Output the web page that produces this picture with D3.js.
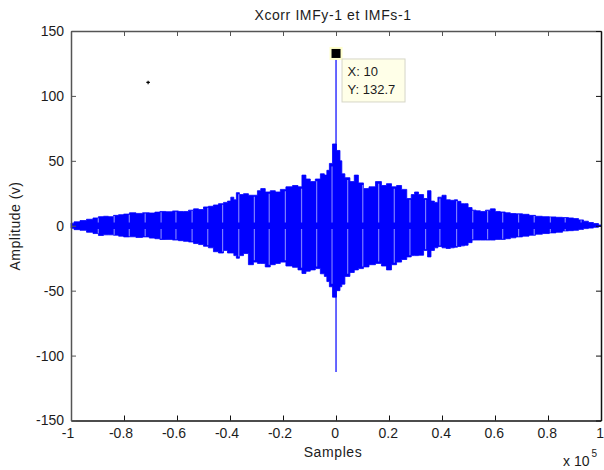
<!DOCTYPE html>
<html>
<head>
<meta charset="utf-8">
<script src="https://cdn.jsdelivr.net/npm/d3@7"></script>
<style>
 body { margin:0; background:#fff; }
 text { font-family:"Liberation Sans", Arial, sans-serif; fill:#1c1c1c; }
</style>
</head>
<body>
<script>
// envelope of the xcorr signal (lag in samples, amplitude in v)
var envLag = [-100000,-97700,-95500,-92800,-90600,-88700,-86800,-84900,-83000,-81100,
 -79200,-76700,-74300,-71700,-69200,-67500,-65400,-63000,-60400,-58500,
 -56600,-54700,-52800,-50900,-49100,-47200,-45300,-43400,-41500,-40400,
 -39000,-38100,-37100,-35800,-34000,-32100,-30200,-29100,-27700,-25700,
 -23900,-21900,-20100,-17700,-15100,-13600,-12100,-10600,-8800,-6800,
 -5000,-3800,-3100,-1900,-750,1100,1900,2500,4200,6300,
 7500,9400,11300,13600,16200,18100,20000,21900,23800,25700,
 27700,29100,30200,32100,34000,35100,36600,37700,39200,40800,
 42300,44000,45300,46400,47900,49100,50600,52100,53600,55400,
 57400,59100,61100,62900,64900,66700,69100,71700,74000,76600,
 79200,81800,84200,86800,88700,90600,92500,94300,96200,98100,100000];
var envUpper = [2,3,4,5,6,7,7.3,7,8,8.5,
 9,10,9.5,10,9.8,10.5,11,10.8,11.4,11,
 11,12,13,12.5,14.5,15,16,17,18,19,
 22,20,25.5,24,24.7,23.5,23.5,27,28.6,26,
 27,26,28,30,31,30,39,36,34,36,
 40,39,42.7,48,63,58,50,40,37,34,
 39,33,28.6,30,34,31,32.4,30,31,28,
 21,24,26,24,21,27,19,18,22,23.5,
 20,19.6,20,18.8,17,17,14,12,11.5,11,
 12,13,11,10.6,10,9.4,9.2,8.8,8,7.3,
 7,6.8,6.5,6.3,6,5.5,4.5,3.5,2.5,1.7,0.6];
var envLower = [-2,-3,-3.5,-5,-6,-7.5,-7,-7,-7.3,-8,
 -8.6,-8.5,-9,-8.6,-9.5,-10,-10.6,-10.5,-11,-11.5,
 -12,-12.5,-13.7,-14.5,-15.8,-17,-20,-21,-19,-21,
 -21,-23,-25,-23,-21.4,-30,-28,-29,-29,-31.7,
 -30,-29,-28,-31,-32,-34,-36.8,-35,-34,-33,
 -37,-39,-43,-47,-55,-50,-47,-45,-39,-36,
 -34,-33,-31.7,-30,-29,-31,-34,-30,-28,-26,
 -24,-23,-23,-22.7,-19,-24,-19,-17,-16,-17,
 -17.5,-17,-16.5,-16,-15.5,-15,-13,-11,-11,-11,
 -11,-11,-10.5,-10.5,-10,-9.3,-8.6,-8,-7.3,-6.5,
 -6,-5.5,-5,-4,-3.8,-3.5,-2.8,-2.2,-1.8,-1.2,-0.4];

// lighter vertical gaps that repeat through the signal
var stripeLag = [-89700,-83700,-78000,-72000,-66000,-60400,-54300,-48400,-42800,-36700,
 -30800,-25200,-19100,-13000,-7300,-1500,4400,10100,16100,22000,
 27900,33800,39200,45500,51600,57200,62900,68900,74800,80900,86500,92500];

// central spike and data tip
var peakLag = 10, peakMax = 132.7, peakMin = -112.7;
var strayPoint = [-70900, 110.4];

var xTicks = [-100000,-80000,-60000,-40000,-20000,0,20000,40000,60000,80000,100000];
var xTickLabels = ["-1","-0.8","-0.6","-0.4","-0.2","0","0.2","0.4","0.6","0.8","1"];
var yTicks = [-150,-100,-50,0,50,100,150];

var W = 604, H = 470;
var L = 71, R = 601, T = 31, B = 420.5;

var svg = d3.select("body").append("svg")
  .attr("width", W)
  .attr("height", H);
svg.append("rect").attr("width", W).attr("height", H).attr("fill", "#fff");

var x = d3.scaleLinear().domain([-100000, 100000]).range([L, R]);
var y = d3.scaleLinear().domain([-150, 150]).range([B, T]);

var env = envLag.map(function(d, i){ return {lag:d, hi:envUpper[i], lo:envLower[i]}; });

// the signal band
var band = d3.area()
  .x(function(d){ return x(d.lag); })
  .y0(function(d){ return y(d.lo); })
  .y1(function(d){ return y(d.hi); })
  .curve(d3.curveStep);

svg.append("path")
  .attr("d", band(env))
  .attr("fill", "#0000ff")
  .attr("stroke", "#0000ff")
  .attr("stroke-width", 0.8);

var bis = d3.bisector(function(d){ return d.lag; }).center;
var stripes = svg.append("g")
  .attr("stroke", "#7c7cff")
  .attr("stroke-width", 1.2);
stripeLag.forEach(function(s){
  var e = env[bis(env, s)];
  stripes.append("line")
    .attr("x1", x(s)).attr("x2", x(s))
    .attr("y1", y(e.hi * 0.95)).attr("y2", y(2.5));
  stripes.append("line")
    .attr("x1", x(s)).attr("x2", x(s))
    .attr("y1", y(-2.5)).attr("y2", y(e.lo * 0.95));
});

svg.append("line")
  .attr("x1", x(peakLag)).attr("x2", x(peakLag))
  .attr("y1", y(peakMin)).attr("y2", y(peakMax))
  .attr("stroke", "#0000ff")
  .attr("stroke-width", 1.2);

svg.append("path")
  .attr("d", d3.symbol().type(d3.symbolCross).size(7)())
  .attr("transform", "translate(" + x(strayPoint[0]) + "," + y(strayPoint[1]) + ")")
  .attr("fill", "#000");

// axes, MATLAB box with inward ticks
function styleAxis(g, col){
  g.select(".domain").attr("stroke", col).attr("stroke-width", 1.5);
  g.selectAll(".tick line").attr("stroke", col);
  g.selectAll(".tick text")
    .attr("fill", "#1c1c1c")
    .style("font-size", "14px")
    .style("font-family", "'Liberation Sans', Arial, sans-serif");
}

var gB = svg.append("g").attr("transform", "translate(0," + B + ")")
  .call(d3.axisBottom(x).tickValues(xTicks).tickSizeInner(-5).tickSizeOuter(0).tickPadding(8)
    .tickFormat(function(d, i){ return xTickLabels[i]; }));
styleAxis(gB, "#111");
gB.selectAll(".tick text").attr("dx", function(d){ return d < 0 ? -3.5 : -1.3; });

var gT = svg.append("g").attr("transform", "translate(0," + T + ")")
  .call(d3.axisTop(x).tickValues(xTicks).tickSizeInner(-5).tickSizeOuter(0).tickFormat(""));
styleAxis(gT, "#555");

var gL = svg.append("g").attr("transform", "translate(" + L + ",0)")
  .call(d3.axisLeft(y).tickValues(yTicks).tickSizeInner(-5).tickSizeOuter(0).tickPadding(7)
    .tickFormat(function(d){ return String(d); }));
styleAxis(gL, "#555");

var gR = svg.append("g").attr("transform", "translate(" + R + ",0)")
  .call(d3.axisRight(y).tickValues(yTicks).tickSizeInner(-5).tickSizeOuter(0).tickFormat(""));
styleAxis(gR, "#111");

// data tip
var px = x(peakLag), py = y(peakMax);
svg.append("rect")
  .attr("x", px - 6.5).attr("y", py - 6.5).attr("width", 13).attr("height", 13)
  .attr("fill", "#ffffcc");
svg.append("rect")
  .attr("x", px - 4.5).attr("y", py - 4.5).attr("width", 9).attr("height", 9)
  .attr("fill", "#000");
svg.append("rect")
  .attr("x", px + 6).attr("y", py + 5.5).attr("width", 63).attr("height", 43)
  .attr("fill", "#ffffe8")
  .attr("stroke", "#d6d6c8");
svg.append("text").attr("x", px + 11.5).attr("y", py + 23)
  .style("font-size", "13px").text("X: " + peakLag);
svg.append("text").attr("x", px + 11.5).attr("y", py + 41)
  .style("font-size", "13px").text("Y: " + peakMax);

// labels
svg.append("text")
  .attr("x", 333).attr("y", 20)
  .attr("text-anchor", "middle")
  .style("font-size", "14px").style("letter-spacing", "0.6px")
  .text("Xcorr IMFy-1 et IMFs-1");

svg.append("text")
  .attr("x", 333).attr("y", 457)
  .attr("text-anchor", "middle")
  .style("font-size", "14px").style("letter-spacing", "0.6px")
  .text("Samples");

svg.append("text")
  .attr("transform", "translate(20,226) rotate(-90)")
  .attr("text-anchor", "middle")
  .style("font-size", "14px").style("letter-spacing", "0.5px")
  .text("Amplitude (v)");

var ex = svg.append("text")
  .attr("x", 563).attr("y", 465.5)
  .style("font-size", "14px")
  .text("x 10");
ex.append("tspan").attr("dx", 2).attr("dy", -9).style("font-size", "10px").text("5");
</script>
</body>
</html>
